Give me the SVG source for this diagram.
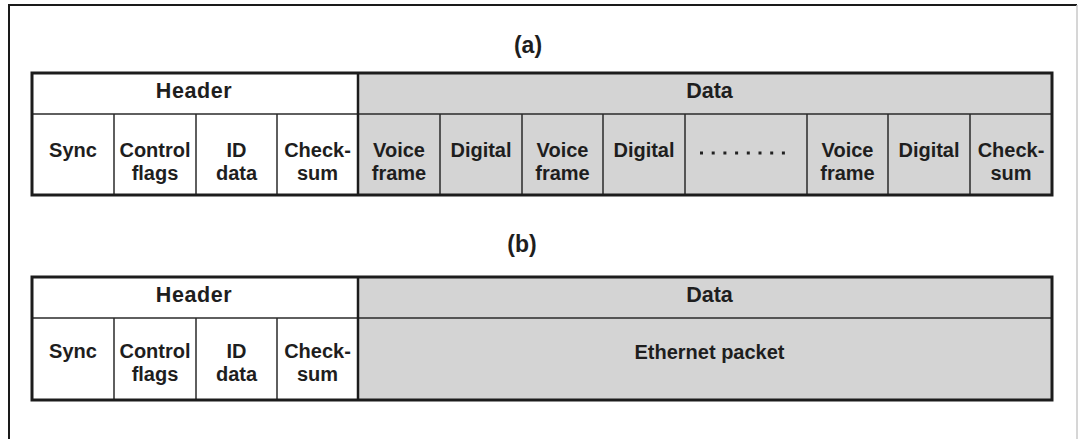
<svg xmlns="http://www.w3.org/2000/svg" width="1078" height="439" viewBox="0 0 1078 439">
  <style>
    .frame { fill: none; stroke: #1a1a1a; stroke-width: 2; }
    .frame-r { fill: none; stroke: #c8c8c8; stroke-width: 1.5; }
    .white { fill: #ffffff; }
    .grey { fill: #d4d4d4; }
    .outline { fill: none; stroke: #1c1c1c; stroke-width: 3; }
    .split { stroke: #1c1c1c; stroke-width: 2.5; }
    .line { stroke: #2a2a2a; stroke-width: 1.5; }
    text { font-family: "Liberation Sans", Arial, sans-serif; font-weight: bold; fill: #1e1e1e; text-anchor: middle; }
    .t { font-size: 20px; }
    .h { font-size: 21.5px; }
    .hs { letter-spacing: 0.6px; }
    .cap { font-size: 23px; }
    .dot { fill: #222222; }
  </style>

  <rect width="1078" height="439" fill="#ffffff"/>

  <!-- page frame -->
  <path class="frame" d="M9 445 V5 H1077"/>
  <path class="frame-r" d="M1077 5 V445"/>

  <!-- (a) voice/data frame -->
  <g id="frame-a">
    <text class="cap" x="528" y="53">(a)</text>
    <g id="a-header">
      <rect class="white" x="32" y="73" width="326" height="122"/>
      <text class="h hs" x="194" y="98">Header</text>
    </g>
    <g id="a-data">
      <rect class="grey" x="358" y="73" width="694" height="122"/>
      <text class="h" x="709.5" y="98">Data</text>
    </g>
    <line class="line" x1="32" y1="114" x2="1052" y2="114"/>
    <line class="line" x1="114" y1="114" x2="114" y2="195"/>
    <line class="line" x1="196" y1="114" x2="196" y2="195"/>
    <line class="line" x1="277" y1="114" x2="277" y2="195"/>
    <line class="line" x1="440" y1="114" x2="440" y2="195"/>
    <line class="line" x1="522" y1="114" x2="522" y2="195"/>
    <line class="line" x1="603" y1="114" x2="603" y2="195"/>
    <line class="line" x1="685" y1="114" x2="685" y2="195"/>
    <line class="line" x1="807" y1="114" x2="807" y2="195"/>
    <line class="line" x1="888" y1="114" x2="888" y2="195"/>
    <line class="line" x1="970" y1="114" x2="970" y2="195"/>
    <line class="split" x1="358" y1="73" x2="358" y2="195"/>
    <rect class="outline" x="32" y="73" width="1020" height="122"/>

    <g id="a-sync"><text class="t" x="73" y="157">Sync</text></g>
    <g id="a-control"><text class="t" x="155" y="157">Control</text><text class="t" x="155" y="180">flags</text></g>
    <g id="a-id"><text class="t" x="236.5" y="157">ID</text><text class="t" x="236.5" y="180">data</text></g>
    <g id="a-check"><text class="t" x="317.5" y="157">Check-</text><text class="t" x="317.5" y="180">sum</text></g>
    <g id="a-voice1"><text class="t" x="399" y="157">Voice</text><text class="t" x="399" y="180">frame</text></g>
    <g id="a-digital1"><text class="t" x="481" y="157">Digital</text></g>
    <g id="a-voice2"><text class="t" x="562.5" y="157">Voice</text><text class="t" x="562.5" y="180">frame</text></g>
    <g id="a-digital2"><text class="t" x="644" y="157">Digital</text></g>
    <g id="a-more">
      <rect class="dot" x="700" y="151.5" width="3" height="3"/>
      <rect class="dot" x="711.7" y="151.5" width="3" height="3"/>
      <rect class="dot" x="723.4" y="151.5" width="3" height="3"/>
      <rect class="dot" x="735.1" y="151.5" width="3" height="3"/>
      <rect class="dot" x="746.8" y="151.5" width="3" height="3"/>
      <rect class="dot" x="758.5" y="151.5" width="3" height="3"/>
      <rect class="dot" x="770.2" y="151.5" width="3" height="3"/>
      <rect class="dot" x="781.9" y="151.5" width="3" height="3"/>
    </g>
    <g id="a-voice3"><text class="t" x="847.5" y="157">Voice</text><text class="t" x="847.5" y="180">frame</text></g>
    <g id="a-digital3"><text class="t" x="929" y="157">Digital</text></g>
    <g id="a-check2"><text class="t" x="1011" y="157">Check-</text><text class="t" x="1011" y="180">sum</text></g>
  </g>

  <!-- (b) ethernet frame -->
  <g id="frame-b">
    <text class="cap" x="522" y="252">(b)</text>
    <g id="b-header">
      <rect class="white" x="32" y="277" width="326" height="123"/>
      <text class="h hs" x="194" y="302">Header</text>
    </g>
    <g id="b-data">
      <rect class="grey" x="358" y="277" width="694" height="123"/>
      <text class="h" x="709.5" y="302">Data</text>
    </g>
    <line class="line" x1="32" y1="318" x2="1052" y2="318"/>
    <line class="line" x1="114" y1="318" x2="114" y2="400"/>
    <line class="line" x1="196" y1="318" x2="196" y2="400"/>
    <line class="line" x1="277" y1="318" x2="277" y2="400"/>
    <line class="split" x1="358" y1="277" x2="358" y2="400"/>
    <rect class="outline" x="32" y="277" width="1020" height="123"/>

    <g id="b-sync"><text class="t" x="73" y="358">Sync</text></g>
    <g id="b-control"><text class="t" x="155" y="358">Control</text><text class="t" x="155" y="381">flags</text></g>
    <g id="b-id"><text class="t" x="236.5" y="358">ID</text><text class="t" x="236.5" y="381">data</text></g>
    <g id="b-check"><text class="t" x="317.5" y="358">Check-</text><text class="t" x="317.5" y="381">sum</text></g>
    <g id="b-packet"><text class="t" x="709.5" y="359">Ethernet packet</text></g>
  </g>
</svg>
